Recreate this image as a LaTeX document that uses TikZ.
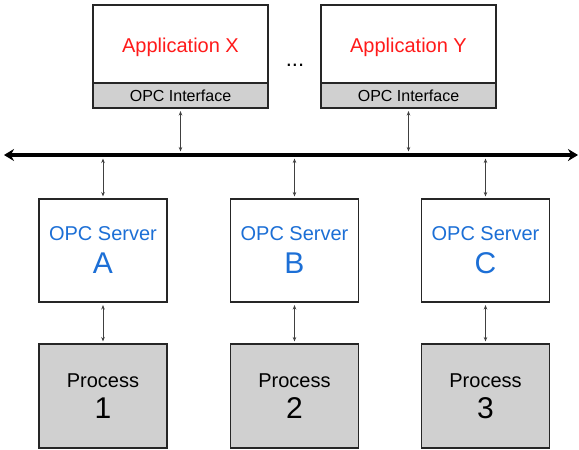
\documentclass[tikz,border=0pt]{standalone}
\usepackage{fontspec}
\setmainfont{Liberation Sans}
\usetikzlibrary{arrows.meta}
\definecolor{appred}{HTML}{FF1A1A}
\definecolor{srvblue}{HTML}{1C6FD6}
\definecolor{boxgray}{HTML}{D0D0D0}
\definecolor{linegray}{HTML}{404040}
\begin{document}
\begin{tikzpicture}[x=1pt,y=-1pt,
  box/.style={draw=black!85,line width=1.6pt,inner sep=0pt,outer sep=0pt},
  appbox/.style={box,fill=white,minimum width=175pt,minimum height=78pt,text=appred,font=\fontsize{20}{24}\selectfont,text height=22pt,text depth=4.2pt},
  ifbox/.style={box,fill=boxgray,minimum width=175pt,minimum height=25pt,font=\fontsize{16}{19}\selectfont},
  srvbox/.style={box,fill=white,minimum width=128pt,minimum height=103pt,text=srvblue,align=center,font=\fontsize{20}{33}\selectfont},
  procbox/.style={box,fill=boxgray,minimum width=128pt,minimum height=104pt,align=center,font=\fontsize{20}{31}\selectfont},
  link/.style={draw=linegray,line width=0.8pt,{Stealth[length=4.5pt,width=3.5pt]}-{Stealth[length=4.5pt,width=3.5pt]},shorten <=3pt,shorten >=2.5pt},
  bus/.style={draw=black,line width=3.6pt,{Stealth[length=10pt,width=12pt]}-{Stealth[length=10pt,width=12pt]}}
]
\useasboundingbox (0,0) rectangle (579,450);

% applications
\node[appbox] (appX) at (180.5,44) {Application X};
\node[ifbox,anchor=north] (ifX) at (appX.south) {OPC Interface};
\node[appbox] (appY) at (408.5,44) {Application Y};
\node[ifbox,anchor=north] (ifY) at (appY.south) {OPC Interface};
\node[font=\fontsize{22}{24}\selectfont,inner sep=0pt] (dots) at (295,65) {...};

% bus
\coordinate (busL) at (4,155);
\coordinate (busR) at (578,155);
\draw[bus] (busL) -- (busR);

% servers
\node[srvbox] (srvA) at (103,250.5) {OPC Server\\{\fontsize{30}{33}\selectfont A}};
\node[srvbox] (srvB) at (294.5,250.5) {OPC Server\\{\fontsize{30}{33}\selectfont B}};
\node[srvbox] (srvC) at (485.5,250.5) {OPC Server\\{\fontsize{30}{33}\selectfont C}};

% processes
\node[procbox] (procA) at (103,396) {Process\\{\fontsize{30}{31}\selectfont 1}};
\node[procbox] (procB) at (294.5,396) {Process\\{\fontsize{30}{31}\selectfont 2}};
\node[procbox] (procC) at (485.5,396) {Process\\{\fontsize{30}{31}\selectfont 3}};

% bus taps
\coordinate (tX) at (ifX.south |- busL);
\coordinate (tY) at (ifY.south |- busL);
\coordinate (tA) at (srvA.north |- busL);
\coordinate (tB) at (srvB.north |- busL);
\coordinate (tC) at (srvC.north |- busL);

\draw[link,shorten >=3.5pt] (ifX.south) -- (tX);
\draw[link,shorten >=3.5pt] (ifY.south) -- (tY);
\draw[link,shorten <=3.5pt] (tA) -- (srvA.north);
\draw[link,shorten <=3.5pt] (tB) -- (srvB.north);
\draw[link,shorten <=3.5pt] (tC) -- (srvC.north);

\draw[link] (srvA.south) -- (procA.north);
\draw[link] (srvB.south) -- (procB.north);
\draw[link] (srvC.south) -- (procC.north);
\end{tikzpicture}
\end{document}
